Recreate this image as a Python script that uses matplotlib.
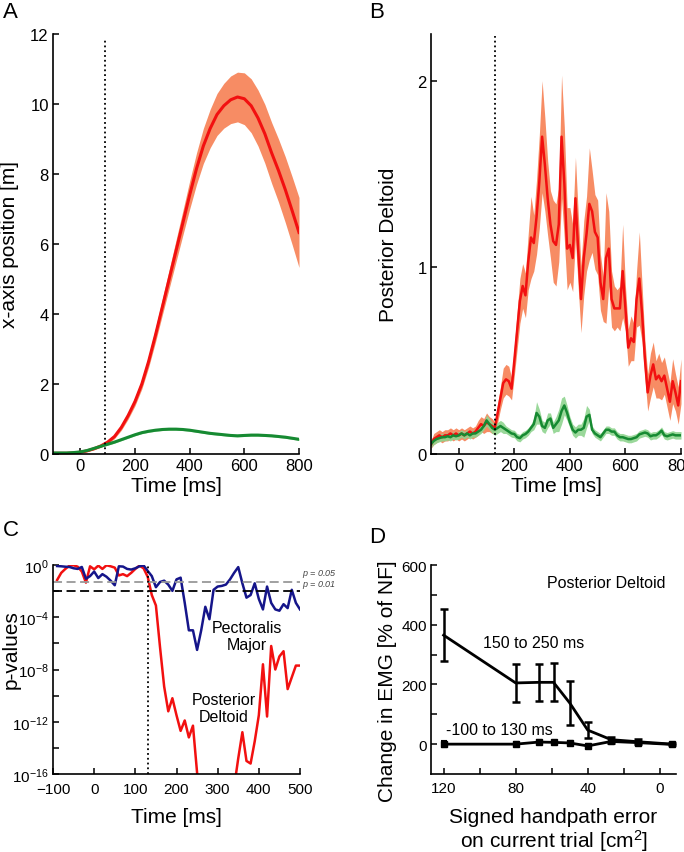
import numpy as np
import matplotlib
matplotlib.use("Agg")
import matplotlib.pyplot as plt
from matplotlib.ticker import FixedLocator, NullFormatter

plt.rcParams['font.family'] = ['Liberation Sans', 'DejaVu Sans']
plt.rcParams['mathtext.fontset'] = 'custom'
plt.rcParams['mathtext.rm'] = 'Liberation Sans'
plt.rcParams['mathtext.it'] = 'Liberation Sans:italic'
plt.rcParams['mathtext.bf'] = 'Liberation Sans:bold'

# ---------------- Panel A data (25 ms steps) ----------------
timeA = np.arange(-100, 801, 25)
posA_red = [0.02, 0.02, 0.02, 0.03, 0.05, 0.09, 0.15, 0.23, 0.34, 0.5, 0.76, 1.1, 1.5, 2.0,
            2.65, 3.4, 4.2, 5.0, 5.8, 6.6, 7.4, 8.15, 8.8, 9.3, 9.7, 9.95, 10.12, 10.2, 10.15,
            9.95, 9.6, 9.15, 8.6, 8.1, 7.55, 6.95, 6.33]
posA_red_sd = [0.02, 0.02, 0.02, 0.02, 0.02, 0.02, 0.03, 0.04, 0.05, 0.06, 0.08, 0.1, 0.12, 0.14,
               0.17, 0.2, 0.23, 0.27, 0.31, 0.35, 0.4, 0.45, 0.5, 0.55, 0.6, 0.64, 0.68, 0.71, 0.74,
               0.77, 0.8, 0.84, 0.87, 0.9, 0.94, 0.97, 1.0]
posA_green = [0.03, 0.03, 0.03, 0.04, 0.06, 0.1, 0.16, 0.22, 0.28, 0.34, 0.41, 0.48, 0.55, 0.61,
              0.65, 0.68, 0.7, 0.71, 0.71, 0.7, 0.68, 0.65, 0.62, 0.59, 0.57, 0.55, 0.53, 0.52,
              0.53, 0.54, 0.54, 0.53, 0.52, 0.5, 0.48, 0.45, 0.42]
posA_green_sd = [0.02] * 8 + [0.03] * 29
onsetA = 90

# ---------------- Panel B data (10 ms steps) ----------------
timeB = np.arange(-100, 801, 10)
emgB_red = [0.05, 0.08, 0.09, 0.10, 0.09, 0.10, 0.10, 0.11, 0.10, 0.11,
            0.10, 0.11, 0.10, 0.11, 0.12, 0.11, 0.12, 0.14, 0.16, 0.15,
            0.17, 0.16, 0.15, 0.14, 0.22, 0.30, 0.38, 0.40, 0.39, 0.35,
            0.50, 0.66, 0.82, 0.90, 0.85, 1.03, 1.16, 1.13, 1.27, 1.46,
            1.70, 1.55, 1.37, 1.23, 1.14, 1.12, 1.23, 1.70, 1.45, 1.10,
            1.12, 1.05, 1.37, 1.09, 0.83, 1.05, 1.18, 1.34, 1.30, 1.19,
            1.16, 0.92, 0.83, 1.05, 1.10, 0.83, 0.78, 0.78, 0.78, 0.98,
            0.78, 0.57, 0.62, 0.60, 0.83, 0.94, 0.75, 0.51, 0.33, 0.42,
            0.48, 0.40, 0.42, 0.39, 0.42, 0.35, 0.28, 0.39, 0.33, 0.26,
            0.39]
emgB_red_sd = [0.02, 0.03, 0.03, 0.03, 0.03, 0.03, 0.03, 0.03, 0.03, 0.03,
               0.03, 0.03, 0.03, 0.03, 0.03, 0.03, 0.03, 0.04, 0.04, 0.04,
               0.05, 0.04, 0.04, 0.03, 0.05, 0.06, 0.08, 0.08, 0.08, 0.06,
               0.08, 0.10, 0.12, 0.12, 0.12, 0.15, 0.22, 0.15, 0.20, 0.25,
               0.30, 0.25, 0.20, 0.18, 0.22, 0.22, 0.20, 0.33, 0.30, 0.22,
               0.20, 0.18, 0.22, 0.20, 0.18, 0.20, 0.20, 0.30, 0.22, 0.20,
               0.20, 0.15, 0.12, 0.35, 0.20, 0.15, 0.12, 0.10, 0.12, 0.25,
               0.12, 0.10, 0.12, 0.10, 0.15, 0.25, 0.15, 0.10, 0.10, 0.12,
               0.12, 0.10, 0.12, 0.10, 0.10, 0.10, 0.10, 0.12, 0.10, 0.10,
               0.12]
emgB_green = [0.054, 0.07, 0.08, 0.085, 0.09, 0.09, 0.095, 0.09, 0.10, 0.095,
              0.10, 0.11, 0.10, 0.11, 0.10, 0.11, 0.11, 0.12, 0.13, 0.15,
              0.18, 0.16, 0.14, 0.13, 0.14, 0.15, 0.14, 0.13, 0.12, 0.11,
              0.107, 0.09, 0.085, 0.10, 0.107, 0.12, 0.14, 0.16, 0.22, 0.20,
              0.15, 0.14, 0.18, 0.19, 0.14, 0.16, 0.18, 0.23, 0.26, 0.22,
              0.17, 0.13, 0.115, 0.13, 0.13, 0.14, 0.20, 0.21, 0.13, 0.11,
              0.10, 0.09, 0.11, 0.13, 0.13, 0.12, 0.12, 0.10, 0.09, 0.09,
              0.085, 0.08, 0.08, 0.085, 0.09, 0.105, 0.11, 0.115, 0.11, 0.095,
              0.10, 0.10, 0.11, 0.125, 0.10, 0.095, 0.10, 0.105, 0.10, 0.10,
              0.10]
emgB_green_sd = [0.02] * 20 + [0.03] * 7 + [0.02] * 10 + [0.03, 0.06, 0.04, 0.03, 0.03, 0.04,
                 0.03, 0.03, 0.04, 0.06, 0.07, 0.05, 0.04, 0.03, 0.03, 0.03, 0.03, 0.03,
                 0.05, 0.06, 0.03] + [0.02] * 33
onsetB = 130

# ---------------- Panel C data (log10 p-values, 10 ms steps) ----------------
timeC = np.arange(-90, 501, 10)
logp_pect = [-0.08, -0.1, -0.13, -0.15, -0.25, -0.3, -0.15, -1.05, -0.85, -0.5,
             -1.0, -0.7, -0.9, -1.2, -1.55, -0.1, -0.12, -0.3, -0.35, -0.25,
             -0.1, -0.03, -0.45, -0.85, -1.7, -1.3, -1.2, -1.5, -1.98, -1.1,
             -0.97, -2.9, -5.0, -5.0, -6.5, -5.0, -3.2, -4.15, -1.9, -1.65,
             -1.6, -1.5, -1.1, -0.6, -0.16, -1.4, -2.5, -2.3, -1.4, -2.6,
             -3.4, -1.65, -2.9, -3.4, -3.5, -3.0, -3.3, -1.9, -2.9, -3.4]
logp_delt = [-1.15, -0.6, -0.3, -0.05, -0.02, -0.13, -0.5, -1.35, -0.1, -0.33,
             -0.05, -0.3, -0.02, -0.1, -0.2, -0.8, -0.7, -0.85, -0.6, -0.3,
             -0.05, -0.25, -0.9, -2.3, -3.1, -6.3, -9.3, -11.2, -10.2, -11.5,
             -12.7, -11.9, -13.2, -12.3, -15.9, -20.0, -20.0, -20.0, -20.0, -20.0,
             -20.0, -20.0, -20.0, -17.0, -14.8, -12.8, -15.0, -15.2, -13.5, -11.5,
             -7.6, -11.6, -6.2, -8.0, -7.0, -6.6, -9.5, -8.6, -7.7, -7.7]
p_thresholds = [0.05, 0.01]
onsetC = 130

# ---------------- Panel D data ----------------
handpath_err = [120, 80, 67, 59, 50, 40, 27, 12, -7]
emg_late = [365, 205, 207, 207, 138, 47, 15, 8, 0]
emg_late_err = [88, 64, 63, 64, 75, 28, 10, 8, 3]
emg_early = [0, 0, 7, 6, 4, -6, 9, 5, -1]
emg_early_err = [9, 6, 7, 6, 6, 6, 7, 7, 5]

# ---------------- styling ----------------
RED = '#f21010'
SALMON = '#f78c64'
GREEN = '#168a32'
LGREEN = '#8fd48f'
NAVY = '#15158a'

W, H = 684, 853
fig = plt.figure(figsize=(W / 100, H / 100), dpi=100)


def axes_px(l, t, r, b):
    return fig.add_axes([l / W, 1 - b / H, (r - l) / W, (b - t) / H])


def style(ax, size, pad=3):
    for s in ['top', 'right']:
        ax.spines[s].set_visible(False)
    for s in ['left', 'bottom']:
        ax.spines[s].set_linewidth(1.2)
    ax.tick_params(direction='in', length=4, width=1.1, labelsize=size, pad=pad)
    ax.tick_params(which='minor', direction='in', length=4, width=1.1)


# ---- A ----
axA = axes_px(53, 35, 299, 455)
style(axA, 12)
rA = np.array(posA_red); sA = np.array(posA_red_sd)
gA = np.array(posA_green); gsA = np.array(posA_green_sd)
axA.fill_between(timeA, rA - sA, rA + sA, color=SALMON, lw=0)
axA.fill_between(timeA, gA - gsA, gA + gsA, color=LGREEN, lw=0)
axA.plot(timeA, rA, color=RED, lw=2.2)
axA.plot(timeA, gA, color=GREEN, lw=2.2)
axA.plot([onsetA, onsetA], [0, 11.9], color='k', ls=':', lw=1.3)
axA.set_xlim(-100, 800)
axA.set_ylim(0, 12)
axA.set_xticks([0, 200, 400, 600, 800])
axA.set_yticks([0, 2, 4, 6, 8, 10, 12])
axA.set_xlabel('Time [ms]', fontsize=15, va='top')
axA.xaxis.set_label_coords(0.5, -0.052)
axA.set_ylabel('x-axis position [m]', fontsize=15)
axA.yaxis.set_label_coords(-0.14, 0.5)

# ---- B ----
axB = axes_px(431, 35, 681, 455)
style(axB, 12)
rB = np.array(emgB_red); sB = np.array(emgB_red_sd)
gB = np.array(emgB_green); gsB = np.array(emgB_green_sd)
axB.fill_between(timeB, rB - sB, rB + sB, color=SALMON, lw=0)
axB.plot(timeB, rB, color=RED, lw=1.8)
axB.fill_between(timeB, gB - gsB, gB + gsB, color=LGREEN, lw=0, alpha=0.9)
axB.plot(timeB, gB, color=GREEN, lw=1.8)
axB.plot([onsetB, onsetB], [0, 2.24], color='k', ls=':', lw=1.3)
axB.set_xlim(-100, 800)
axB.set_ylim(0, 2.25)
axB.set_xticks([0, 200, 400, 600, 800])
axB.set_yticks([0, 1, 2])
axB.set_xlabel('Time [ms]', fontsize=15, va='top')
axB.xaxis.set_label_coords(0.5, -0.052)
axB.set_ylabel('Posterior Deltoid', fontsize=15)
axB.yaxis.set_label_coords(-0.13, 0.5)

# ---- C ----
axC = axes_px(53, 566, 300, 775)
style(axC, 11, pad=6)
axC.set_yscale('log')
axC.plot(timeC, 10.0 ** np.array(logp_delt), color=RED, lw=1.8)
axC.plot(timeC, 10.0 ** np.array(logp_pect), color=NAVY, lw=1.8)
axC.axhline(p_thresholds[0], color='#999999', ls=(0, (5, 2.5)), lw=1.3)
axC.axhline(p_thresholds[1], color='k', ls=(0, (5, 2.5)), lw=1.3)
axC.plot([onsetC, onsetC], [1e-16, 1], color='k', ls=':', lw=1.3)
axC.set_xlim(-100, 500)
axC.set_ylim(1e-16, 1)
axC.set_xticks([-100, 0, 100, 200, 300, 400, 500])
axC.yaxis.set_major_locator(FixedLocator([1e0, 1e-4, 1e-8, 1e-12, 1e-16]))
axC.set_yticklabels([r'$10^{0}$', r'$10^{-4}$', r'$10^{-8}$', r'$10^{-12}$', r'$10^{-16}$'])
axC.yaxis.set_minor_locator(FixedLocator([1e-2, 1e-6, 1e-10, 1e-14]))
axC.yaxis.set_minor_formatter(NullFormatter())
axC.tick_params(axis='y', pad=3)
axC.set_xlabel('Time [ms]', fontsize=15, va='top')
axC.xaxis.set_label_coords(0.5, -0.16)
axC.set_ylabel('p-values', fontsize=15)
axC.yaxis.set_label_coords(-0.13, 0.598)
axC.text(371, 10 ** -5.45, 'Pectoralis\nMajor', fontsize=11.5, ha='center', va='center',
         linespacing=1.15)
axC.text(315, 10 ** -10.96, 'Posterior\nDeltoid', fontsize=11.5, ha='center', va='center',
         linespacing=1.15)
axC.text(505, 10 ** -0.58, '$p$ = 0.05', fontsize=6.5, style='italic', color='#444444',
         ha='left', va='center', clip_on=False)
axC.text(505, 10 ** -1.48, '$p$ = 0.01', fontsize=6.5, style='italic', color='#444444',
         ha='left', va='center', clip_on=False)

# ---- D ----
axD = axes_px(431, 566, 676, 775)
style(axD, 11, pad=5)
axD.errorbar(handpath_err, emg_late, yerr=emg_late_err, color='k', lw=2, elinewidth=1.8,
             capsize=3, capthick=1.8)
axD.errorbar(handpath_err, emg_early, yerr=emg_early_err, color='k', lw=2, elinewidth=1.5,
             capsize=2.5, capthick=1.5, marker='s', ms=4)
axD.set_xlim(127, -9)
axD.set_ylim(-100, 600)
axD.set_xticks([120, 80, 40, 0])
axD.xaxis.set_minor_locator(FixedLocator([100, 60, 20]))
axD.set_yticks([0, 200, 400, 600])
axD.yaxis.set_minor_locator(FixedLocator([100, 300, 500]))
axD.tick_params(axis='y', pad=3)
axD.set_xlabel('Signed handpath error\non current trial [cm$^{2}$]', fontsize=15, va='top',
               linespacing=1.05)
axD.xaxis.set_label_coords(0.5, -0.16)
axD.set_ylabel('Change in EMG [% of NF]', fontsize=15)
axD.yaxis.set_label_coords(-0.139, 0.45)
axD.text(29.8, 543, 'Posterior Deltoid', fontsize=11.5, ha='center', va='center')
axD.text(69.8, 340, '150 to 250 ms', fontsize=11.5, ha='center', va='center')
axD.text(89.3, 49, '-100 to 130 ms', fontsize=11.5, ha='center', va='center')

# ---- panel letters ----
for lab, x, y in [('A', 3, 2), ('B', 369, 2), ('C', 3, 520), ('D', 369, 527)]:
    fig.text(x / W, 1 - y / H, lab, fontsize=16, ha='left', va='top')

fig.savefig('out.png', dpi=100)
